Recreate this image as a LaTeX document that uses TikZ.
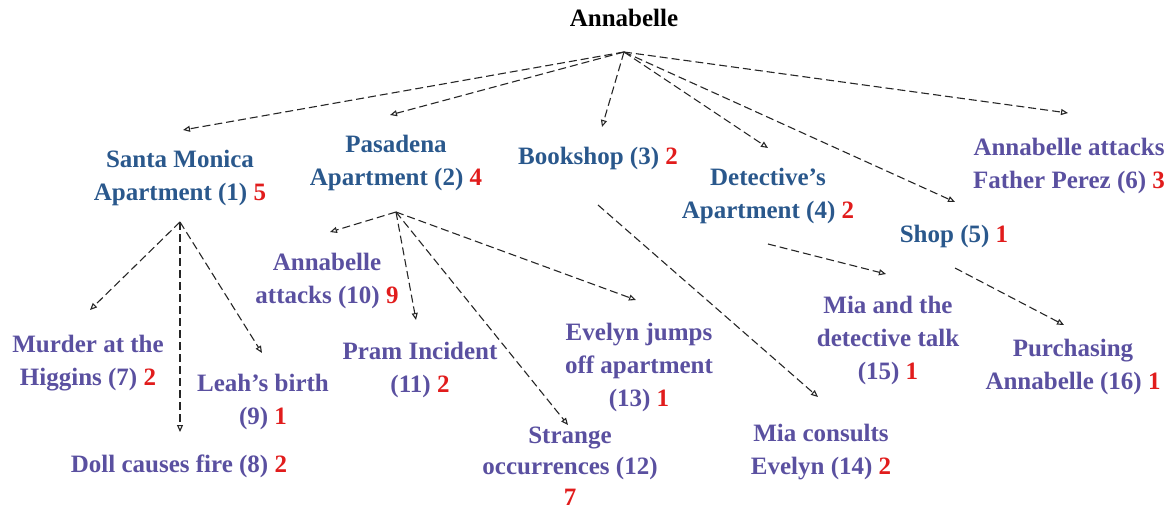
\documentclass[tikz,border=0pt]{standalone}
\usepackage{fontspec}
\setmainfont{Liberation Serif}
\usetikzlibrary{arrows.meta}
\definecolor{lvlone}{RGB}{42,88,140}
\definecolor{lvltwo}{RGB}{90,80,160}
\definecolor{cntred}{RGB}{225,28,28}
\newcommand{\cnum}[1]{\textcolor{cntred}{#1}}
\begin{document}
\begin{tikzpicture}[x=1pt,y=-1pt,
  lbl/.style={font=\fontsize{25}{33}\selectfont\bfseries, align=center, inner sep=0pt},
  topnode/.style={lbl, text=lvlone},
  subnode/.style={lbl, text=lvltwo},
  edge/.style={draw=black!85, line width=1.1pt, dash pattern=on 8pt off 4pt,
    -{Triangle[open,length=7pt,width=6pt]}}]
\useasboundingbox (0,0) rectangle (1172,512);

% root
\node[lbl] (root) at (624,18) {Annabelle};

% level 1
\node[topnode] (sm) at (180,178) {Santa Monica\\Apartment (1) \cnum{5}};
\node[topnode] (pa) at (396,163) {Pasadena\\Apartment (2) \cnum{4}};
\node[topnode] (bk) at (598,158) {Bookshop (3) \cnum{2}};
\node[topnode] (de) at (768,196) {Detective's\\Apartment (4) \cnum{2}};
\node[topnode] (sh) at (954,236) {Shop (5) \cnum{1}};
\node[subnode] (fp) at (1069,166) {Annabelle attacks\\Father Perez (6) \cnum{3}};

% level 2
\node[subnode] (mu) at (88,363) {Murder at the\\Higgins (7) \cnum{2}};
\node[subnode] (dc) at (179,466) {Doll causes fire (8) \cnum{2}};
\node[subnode] (le) at (263,402) {Leah's birth\\(9) \cnum{1}};
\node[subnode] (aa) at (327,281) {Annabelle\\attacks (10) \cnum{9}};
\node[subnode] (pr) at (420,370) {Pram Incident\\(11) \cnum{2}};
\node[subnode, font=\fontsize{25}{31}\selectfont\bfseries] (so) at (570,466) {Strange\\occurrences (12)\\\cnum{7}};
\node[subnode] (ev) at (639,367) {Evelyn jumps\\off apartment\\(13) \cnum{1}};
\node[subnode] (mc) at (821,452) {Mia consults\\Evelyn (14) \cnum{2}};
\node[subnode] (md) at (888,340) {Mia and the\\detective talk\\(15) \cnum{1}};
\node[subnode] (pu) at (1073,367) {Purchasing\\Annabelle (16) \cnum{1}};

% hubs and arrow ends
\coordinate (rootHub) at (624,52);
\coordinate (smIn) at (183,130);
\coordinate (paIn) at (390,115);
\coordinate (bkIn) at (602,127);
\coordinate (deIn) at (768,148);
\coordinate (shIn) at (955,202);
\coordinate (fpIn) at (1068,113);

\coordinate (smHub) at (180,222);
\coordinate (muIn) at (90,310);
\coordinate (dcIn) at (180,432);
\coordinate (leIn) at (262,353);

\coordinate (paHub) at (396,212);
\coordinate (aaIn) at (330,232);
\coordinate (prIn) at (416,320);
\coordinate (soIn) at (568,425);
\coordinate (evIn) at (636,300);

\coordinate (bkOut) at (598,205);
\coordinate (mcIn) at (818,397);
\coordinate (deOut) at (768,244);
\coordinate (mdIn) at (886,274);
\coordinate (shOut) at (955,268);
\coordinate (puIn) at (1064,325);

% connectors
\foreach \t in {smIn,paIn,bkIn,deIn,shIn,fpIn} \draw[edge] (rootHub) -- (\t);
\foreach \t in {muIn,dcIn,leIn} \draw[edge] (smHub) -- (\t);
\foreach \t in {aaIn,prIn,soIn,evIn} \draw[edge] (paHub) -- (\t);
\draw[edge] (bkOut) -- (mcIn);
\draw[edge] (deOut) -- (mdIn);
\draw[edge] (shOut) -- (puIn);
\end{tikzpicture}
\end{document}
